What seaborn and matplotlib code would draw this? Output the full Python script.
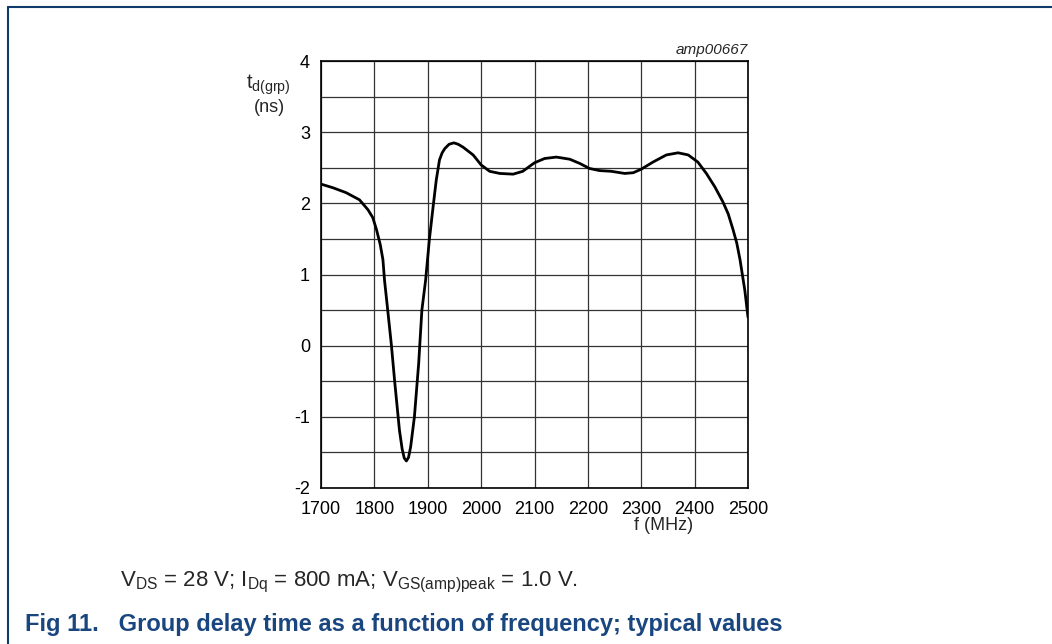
import numpy as np
import pandas as pd
import seaborn as sns
import matplotlib
matplotlib.use("Agg")
import matplotlib.pyplot as plt
from matplotlib.lines import Line2D
from matplotlib.ticker import MultipleLocator

# group delay curve
freq_mhz = [1700, 1722, 1747, 1772, 1788, 1797, 1804, 1811, 1816, 1819, 1825, 1832, 1838,
            1847, 1852, 1856, 1860, 1864, 1868, 1875, 1883, 1889, 1896, 1903, 1910, 1916,
            1922, 1927, 1932, 1940, 1949, 1957, 1966, 1985, 2000, 2016, 2035, 2060, 2078,
            2100, 2119, 2141, 2166, 2185, 2203, 2222, 2244, 2269, 2285, 2300, 2322, 2347,
            2369, 2388, 2406, 2422, 2438, 2453, 2463, 2472, 2479, 2485, 2494, 2500]
delay_ns = [2.27, 2.22, 2.15, 2.05, 1.91, 1.80, 1.63, 1.42, 1.21, 0.92, 0.50, 0.00, -0.50,
            -1.19, -1.45, -1.58, -1.62, -1.57, -1.42, -1.00, -0.25, 0.50, 0.92, 1.49, 1.95, 2.33,
            2.61, 2.71, 2.77, 2.83, 2.85, 2.83, 2.79, 2.68, 2.54, 2.45, 2.42, 2.41, 2.45,
            2.57, 2.63, 2.65, 2.62, 2.56, 2.49, 2.46, 2.45, 2.42, 2.43, 2.48, 2.58, 2.68,
            2.71, 2.68, 2.58, 2.42, 2.23, 2.02, 1.85, 1.63, 1.44, 1.21, 0.78, 0.40]

x_ticks = [1700, 1800, 1900, 2000, 2100, 2200, 2300, 2400, 2500]
y_ticks = [-2, -1, 0, 1, 2, 3, 4]

df = pd.DataFrame({"f": freq_mhz, "td": delay_ns})

sns.set_theme(style="white")
plt.rcParams['font.family'] = ['Liberation Sans', 'DejaVu Sans']
plt.rcParams['mathtext.fontset'] = 'custom'
plt.rcParams['mathtext.rm'] = 'Liberation Sans'
plt.rcParams['mathtext.it'] = 'Liberation Sans:italic'
plt.rcParams['mathtext.bf'] = 'Liberation Sans:bold'
plt.rcParams['axes.unicode_minus'] = False

W, H = 1052, 644
fig = plt.figure(figsize=(W / 100, H / 100), dpi=100)
ax = fig.add_axes([321 / W, 1 - 488 / H, 427 / W, 427 / H])

sns.lineplot(data=df, x="f", y="td", color="black", linewidth=2.0, ax=ax)

ax.set_xlim(1700, 2500)
ax.set_ylim(-2, 4)
ax.set_xticks(x_ticks)
ax.set_xticklabels([str(t) for t in x_ticks])
ax.set_yticks(y_ticks)
ax.set_yticklabels([str(t) for t in y_ticks])
ax.yaxis.set_minor_locator(MultipleLocator(0.5))
ax.grid(True, which="both", color="#333333", linewidth=0.9)
ax.set_axisbelow(True)
ax.tick_params(axis="both", which="both", length=0, labelsize=13, colors="black")
ax.tick_params(axis="x", pad=9)
ax.tick_params(axis="y", pad=8)
ax.set_xlabel("")
ax.set_ylabel("")
for s in ax.spines.values():
    s.set_visible(True)
    s.set_color("black")
    s.set_linewidth(1.2)

def fx(px):
    return px / W

def fy(py):
    return 1 - py / H

fig.text(fx(268), fy(85), r"t$_{\mathrm{d(grp)}}$", ha="center", va="center", fontsize=14.5)
fig.text(fx(269), fy(108), "(ns)", ha="center", va="center", fontsize=13)
fig.text(fx(664), fy(525), "f (MHz)", ha="center", va="center", fontsize=13)
fig.text(fx(748), fy(50), "amp00667", ha="right", va="center", fontsize=11, style="italic")

fig.text(fx(120), fy(582),
         r"V$_{\mathrm{DS}}$ = 28 V; I$_{\mathrm{Dq}}$ = 800 mA; V$_{\mathrm{GS(amp)peak}}$ = 1.0 V.",
         ha="left", va="center", fontsize=16)
fig.text(fx(25), fy(624),
         "Fig 11.   Group delay time as a function of frequency; typical values",
         ha="left", va="center", fontsize=17, fontweight="bold", color="#1a4680")

# page frame lines
border = "#0e3b6a"
fig.add_artist(Line2D([fx(8), fx(W)], [fy(7), fy(7)], color=border, linewidth=1.5))
fig.add_artist(Line2D([fx(8), fx(8)], [fy(7), fy(H)], color=border, linewidth=1.5))

fig.savefig("out.png", dpi=100)
